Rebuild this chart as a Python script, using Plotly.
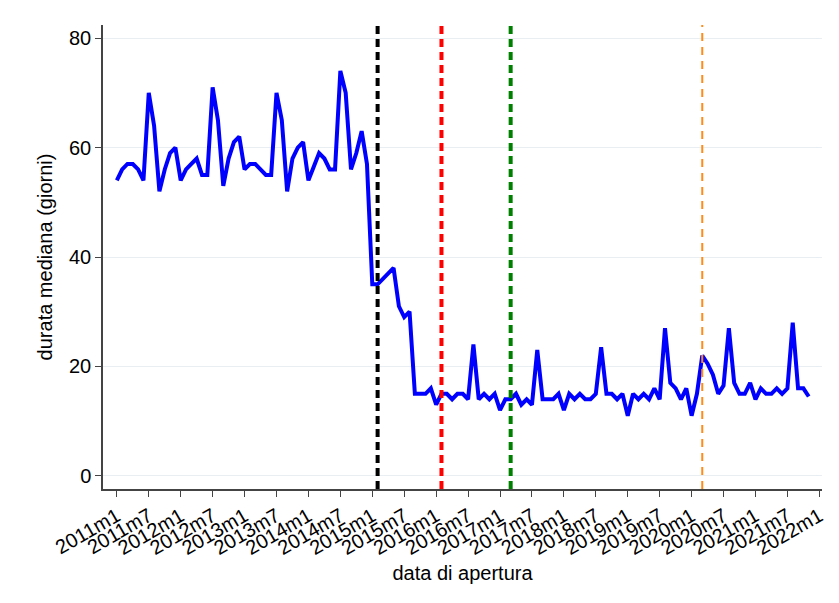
import plotly.graph_objects as go

# Monthly labels, 2011m1 .. 2021m11
years = list(range(2011, 2022))
months = [f"{y}m{m}" for y in years for m in range(1, 13)][:131]

# Median duration (days) by opening month
durata = [
    54, 56, 57, 57, 56, 54, 70, 64, 52, 56, 59, 60,
    54, 56, 57, 58, 55, 55, 71, 65, 53, 58, 61, 62,
    56, 57, 57, 56, 55, 55, 70, 65, 52, 58, 60, 61,
    54, 56.5, 59, 58, 56, 56, 74, 70, 56, 59, 63, 57,
    35, 35, 36, 37, 38, 31, 29, 30, 15, 15, 15, 16,
    13, 15, 15, 14, 15, 15, 14, 24, 14, 15, 14, 15,
    12, 14, 14, 15, 13, 14, 13, 23, 14, 14, 14, 15,
    12, 15, 14, 15, 14, 14, 15, 23.5, 15, 15, 14, 15,
    11, 15, 14, 15, 14, 16, 14, 27, 17, 16, 14, 16,
    11, 15, 22, 20.5, 18.5, 15, 16.5, 27, 17, 15, 15, 17,
    14, 16, 15, 15, 16, 15, 16, 28, 16, 16, 14.5,
]

# Reference months marked with vertical lines
eventi = ["2015m2", "2016m2", "2017m3", "2020m3"]
colori_eventi = ["black", "#ff0000", "#008000", "#ff8c1a"]
spessori_eventi = [4, 4, 4, 2]

# x-axis tick labels, every six months
tick_labels = [f"{y}m{m}" for y in range(2011, 2023) for m in (1, 7)][:23]

all_months = [f"{y}m{m}" for y in range(2011, 2023) for m in range(1, 13)]
idx = {lab: i for i, lab in enumerate(all_months)}

x_vals = [idx[m] for m in months]

fig = go.Figure()
fig.add_trace(go.Scatter(
    x=x_vals, y=durata, mode="lines",
    line=dict(color="#0000ff", width=4),
    showlegend=False,
))

for ev, col, w in zip(eventi, colori_eventi, spessori_eventi):
    fig.add_vline(
        x=idx[ev], line_color=col, line_width=w,
        line_dash="8px,5px" if w > 2 else "8px,6px",
    )

font = "Liberation Sans, Arial, Helvetica, sans-serif"
fig.update_layout(
    width=839, height=603,
    margin=dict(l=103, r=17, t=25, b=114),
    plot_bgcolor="white", paper_bgcolor="white",
    font=dict(family=font, size=20, color="black"),
    xaxis=dict(
        range=[-2.6, 132.5],
        tickmode="array",
        tickvals=[idx[t] for t in tick_labels],
        ticktext=tick_labels,
        tickangle=-30,
        ticks="outside", ticklen=6, tickcolor="#444",
        showline=True, linecolor="#444", linewidth=1.5,
        showgrid=False, zeroline=False,
        title=dict(text="data di apertura", standoff=8,
                   font=dict(size=20)),
        tickfont=dict(size=20),
    ),
    yaxis=dict(
        range=[-2.4, 82.4],
        tickvals=[0, 20, 40, 60, 80],
        ticks="outside", ticklen=6, tickcolor="#444",
        showline=True, linecolor="#444", linewidth=1.5,
        showgrid=True, gridcolor="#e8eef2", gridwidth=1,
        zeroline=False,
        title=dict(text="durata mediana (giorni)", standoff=11,
                   font=dict(size=20)),
        tickfont=dict(size=20),
    ),
)

fig.write_html("out.html")
